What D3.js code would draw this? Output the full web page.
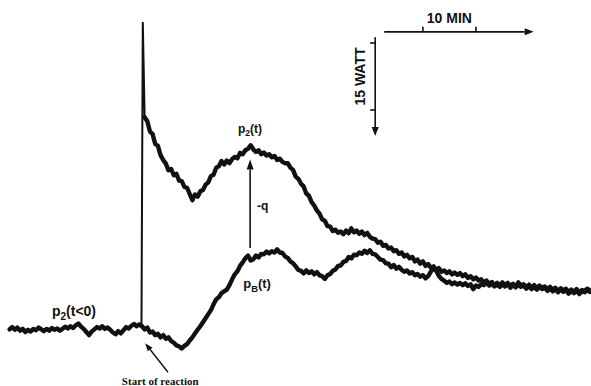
<!DOCTYPE html>
<html>
<head>
<meta charset="utf-8">
<script src="https://cdn.jsdelivr.net/npm/d3@7/dist/d3.min.js"></script>
<style>
  html, body { margin: 0; padding: 0; background: #fff; }
  svg { display: block; }
  .sans { font-family: "Liberation Sans", Arial, sans-serif; font-weight: bold; fill: #111; }
  .serif { font-family: "Liberation Serif", "Times New Roman", serif; font-weight: bold; fill: #111; }
</style>
</head>
<body>
<svg id="chart" width="591" height="386"></svg>
<script>
// Recorder trace: heat flow (W) against time (min), sampled every 0.5 min.
const STEP = 0.5;

// p2 before the reaction starts, t = -25 ... 0 min
const PRE_START = -25;
const p2Before = [
  -0.3, 0.2, -0.4, 0.1, -0.6, -0.2, -0.9, -0.4, -0.8, -0.2,
  -0.5, 0.1, -0.3, -0.7, -0.2, -0.6, 0.0, -0.4, -0.1, -0.6,
  -0.2, 0.3, -0.1, 0.4, 0.0, 0.6, 1.0, 0.3, -0.2, -0.9,
  -1.6, -0.8, -0.3, 0.2, -0.1, 0.4, -0.2, 0.1, -0.4, -1.0,
  -1.4, -0.7, -1.2, -0.5, 0.2, -0.1, 0.5, 0.9, 0.4, 0.8,
  0.4
];

// Injection spike at the start of the reaction: [time, watts]
const spike = [[-0.1, 0.4], [0.15, 68.5], [0.5, 47.2]];

// p2(t) after the start, t = 0.5 ... 84.5 min
const P2_START = 0.5;
const p2After = [
  47.2, 46.3, 44.0, 43.4, 41.2, 40.8, 38.7, 37.6, 36.8, 35.3,
  35.6, 34.2, 34.5, 33.0, 32.9, 31.6, 31.4, 30.0, 28.6, 29.9,
  29.4, 30.6, 30.9, 32.1, 32.6, 34.0, 34.3, 35.9, 36.2, 37.4,
  36.6, 37.5, 36.9, 37.8, 38.3, 38.0, 39.2, 38.9, 39.8, 40.1,
  40.9, 40.0, 39.4, 39.8, 38.9, 39.3, 38.6, 38.9, 38.2, 38.5,
  37.6, 37.9, 37.2, 36.9, 36.9, 35.9, 35.4, 33.9, 33.4, 32.3,
  31.7, 30.1, 29.6, 28.2, 27.4, 26.3, 25.6, 24.3, 24.0, 22.8,
  22.7, 21.7, 22.0, 21.3, 21.6, 21.0, 21.8, 21.2, 22.3, 21.4,
  21.8, 21.1, 21.6, 20.8, 21.3, 20.4, 20.0, 19.9, 19.1, 19.3,
  18.4, 18.6, 17.8, 18.0, 17.2, 17.4, 16.6, 16.9, 16.0, 16.4,
  15.6, 15.9, 14.9, 15.3, 14.4, 14.9, 13.9, 14.3, 13.5, 13.8,
  13.0, 13.4, 12.6, 12.9, 12.3, 12.7, 12.0, 12.4, 11.9, 12.3,
  11.6, 12.0, 11.2, 11.6, 10.9, 11.3, 10.6, 10.9, 10.2, 10.6,
  9.9, 10.3, 9.6, 10.1, 9.5, 10.2, 9.6, 10.1, 9.4, 9.9,
  9.3, 10.2, 9.5, 9.8, 9.1, 9.7, 9.0, 9.6, 8.9, 9.5,
  9.0, 9.3, 8.6, 9.2, 8.5, 9.0, 8.3, 8.9, 8.4, 8.8,
  8.0, 8.6, 8.1, 8.7, 7.9, 8.5, 8.3, 8.8, 8.4
];

// pB(t), t = 0 ... 84.5 min
const PB_START = 0;
const pB = [
  0.4, -0.3, 0.1, -1.0, -0.8, -1.6, -1.3, -2.1, -1.6, -2.4,
  -2.1, -2.9, -3.3, -3.9, -4.1, -4.6, -4.0, -3.6, -2.8, -2.1,
  -1.2, -0.4, 0.4, 1.3, 2.2, 3.1, 4.0, 5.3, 6.4, 6.9,
  7.8, 8.2, 8.6, 9.6, 10.9, 12.0, 12.7, 13.9, 14.7, 15.6,
  16.2, 15.1, 15.4, 16.2, 15.8, 16.6, 16.5, 17.1, 16.7, 17.2,
  16.9, 17.6, 16.9, 16.8, 16.0, 15.7, 14.9, 14.5, 13.8, 13.0,
  12.8, 12.2, 12.9, 12.3, 12.7, 12.0, 12.5, 11.8, 11.6, 11.0,
  11.8, 12.1, 12.8, 13.1, 13.9, 14.0, 14.8, 15.0, 15.9, 15.6,
  16.4, 16.3, 16.9, 16.6, 17.3, 16.8, 17.4, 16.6, 16.5, 15.9,
  15.3, 15.2, 14.5, 14.4, 13.6, 14.1, 13.3, 13.7, 13.0, 12.6,
  12.9, 12.2, 12.5, 11.8, 12.1, 11.5, 11.8, 11.1, 11.6, 12.6,
  13.4, 12.8, 11.7, 11.0, 10.6, 10.1, 10.4, 9.8, 10.2, 9.7,
  10.1, 9.6, 10.0, 9.4, 9.8, 8.7, 9.5, 9.2, 9.8, 9.6,
  10.2, 9.5, 9.9, 9.3, 9.7, 9.2, 9.8, 9.3, 9.9, 9.0,
  9.6, 9.1, 9.8, 9.2, 9.5, 8.8, 9.4, 8.7, 9.3, 8.6,
  9.2, 8.7, 9.0, 8.3, 8.9, 8.2, 8.7, 8.0, 8.6, 8.1,
  8.5, 7.7, 8.3, 7.8, 8.4, 7.6, 8.2, 8.0, 8.5, 8.1
];

// Scale bar: 10 min and 15 W
const scaleTimeTicks = [53, 63];      // min
const scalePowerTicks = [63.8, 48.8]; // W
const scaleLabels = ["10 MIN", "15 WATT"];

// Curve labels
const labels = [
  { text: "p", sub: "2", rest: "(t<0)", t: -17.0, p: 2.7, size: 14 },
  { text: "p", sub: "2", rest: "(t)", t: 18.1, p: 43.7, size: 12 },
  { text: "-q", sub: "", rest: "", t: 21.7, p: 26.5, size: 12 },
  { text: "p", sub: "B", rest: "(t)", t: 19.1, p: 8.9, size: 13 }
];
const startLabel = "Start of reaction";

// ---------------------------------------------------------------
const svg = d3.select("#chart");
const x = d3.scaleLinear().domain([-25, 84.5]).range([9.5, 589.85]);
const y = d3.scaleLinear().domain([0, 15]).range([328, 261]);

const toPoints = (vals, t0) => vals.map((p, i) => ({ t: t0 + i * STEP, p }));
const line = d3.line().x(d => x(d.t)).y(d => y(d.p));
const ink = "#111";

// traces
const traces = [
  toPoints(p2Before, PRE_START),
  toPoints(pB, PB_START),
  toPoints(p2After, P2_START)
];
svg.append("g").selectAll("path").data(traces).join("path")
  .attr("d", line)
  .attr("fill", "none")
  .attr("stroke", ink)
  .attr("stroke-width", 4.4)
  .attr("stroke-linejoin", "round")
  .attr("stroke-linecap", "round");

// spike
svg.append("path")
  .attr("d", d3.line().x(d => x(d[0])).y(d => y(d[1]))(spike))
  .attr("fill", "none")
  .attr("stroke", ink)
  .attr("stroke-width", 2)
  .attr("stroke-linejoin", "miter");

// arrow helper: line from (x1,y1) to (x2,y2) with filled head at the end
function arrow(x1, y1, x2, y2, w, headLen, headW) {
  const a = Math.atan2(y2 - y1, x2 - x1);
  const bx = x2 - headLen * Math.cos(a), by = y2 - headLen * Math.sin(a);
  svg.append("line")
    .attr("x1", x1).attr("y1", y1).attr("x2", bx).attr("y2", by)
    .attr("stroke", ink).attr("stroke-width", w);
  const nx = -Math.sin(a) * headW / 2, ny = Math.cos(a) * headW / 2;
  svg.append("path")
    .attr("d", `M${x2},${y2}L${bx + nx},${by + ny}L${bx - nx},${by - ny}Z`)
    .attr("fill", ink);
}

// scale bar — time
const barY = y(66.3);
arrow(x(45.7), barY, x(73.9), barY, 1.6, 9, 7);
scaleTimeTicks.forEach(t => {
  svg.append("line").attr("x1", x(t)).attr("x2", x(t))
    .attr("y1", barY).attr("y2", barY - 5)
    .attr("stroke", ink).attr("stroke-width", 1.6);
});
svg.append("text").attr("class", "sans")
  .attr("x", d3.mean(scaleTimeTicks.map(x))).attr("y", 23)
  .attr("text-anchor", "middle").attr("font-size", 14)
  .text(scaleLabels[0]);

// scale bar — power
const barX = x(44.0);
arrow(barX, y(65.1), barX, y(43.0), 1.6, 9, 7);
scalePowerTicks.forEach(p => {
  svg.append("line").attr("x1", barX).attr("x2", barX - 5)
    .attr("y1", y(p)).attr("y2", y(p))
    .attr("stroke", ink).attr("stroke-width", 1.6);
});
svg.append("text").attr("class", "sans")
  .attr("transform", `translate(${barX - 10},${d3.mean(scalePowerTicks.map(y))}) rotate(-90)`)
  .attr("text-anchor", "middle").attr("font-size", 14)
  .text(scaleLabels[1]);

// -q arrow between the two curves
arrow(x(20.4), y(17.9), x(20.4), y(37.7), 1.6, 10, 7);

// start-of-reaction pointer
arrow(x(4.9), y(-9.9), x(0.6), y(-3.4), 1.4, 8, 6);
svg.append("text").attr("class", "serif")
  .attr("x", x(-3.8)).attr("y", y(-12.8))
  .attr("font-size", 11)
  .text(startLabel);

// curve labels
labels.forEach(l => {
  const tx = svg.append("text").attr("class", "sans")
    .attr("x", x(l.t)).attr("y", y(l.p))
    .attr("font-size", l.size);
  tx.append("tspan").text(l.text);
  if (l.sub) {
    tx.append("tspan").attr("dy", l.size * 0.28).attr("font-size", l.size * 0.72).text(l.sub);
    tx.append("tspan").attr("dy", -l.size * 0.28).text(l.rest);
  }
});
</script>
</body>
</html>
